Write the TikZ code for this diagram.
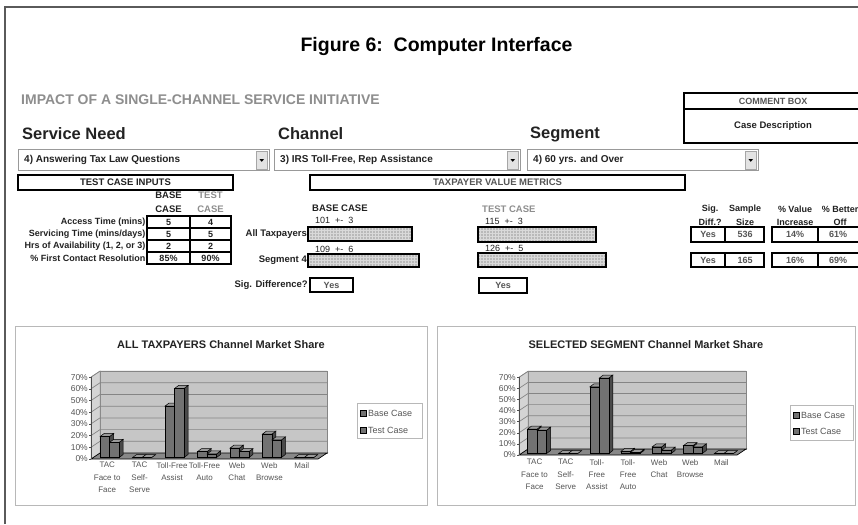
\documentclass[tikz,border=0pt]{standalone}
\usepackage{fontspec}
\setmainfont{Liberation Sans}
\usetikzlibrary{patterns}

\definecolor{ink}{HTML}{222222}
\definecolor{softink}{HTML}{8E8E8E}
\definecolor{midink}{HTML}{555555}
\definecolor{framegray}{HTML}{5A5A5A}
\definecolor{panelgray}{HTML}{B8B8B8}
\definecolor{wallgray}{HTML}{C6C6C6}
\definecolor{sidegray}{HTML}{D4D4D4}
\definecolor{floorgray}{HTML}{888888}
\definecolor{gridgray}{HTML}{858585}
\definecolor{barfront}{HTML}{727272}
\definecolor{bartop}{HTML}{9A9A9A}
\definecolor{barside}{HTML}{4A4A4A}

% one 3-D column: #1 left x, #2 bottom y, #3 width, #4 height
\newcommand\barbox[4]{%
  \filldraw[barsidest] ({#1+#3},{#2}) -- ++(4,-3) -- ({#1+#3+4},{#2-(#4)-3}) -- ({#1+#3},{#2-(#4)}) -- cycle;
  \filldraw[bartopst] ({#1},{#2-(#4)}) -- ({#1+#3},{#2-(#4)}) -- ({#1+#3+4},{#2-(#4)-3}) -- ({#1+4},{#2-(#4)-3}) -- cycle;
  \filldraw[barfrontst] ({#1},{#2}) rectangle ({#1+#3},{#2-(#4)});
}

% market share chart: #1 x0, #2 x1, #3 y of 0%, #4 px per percent, #5 base/test pairs
\newcommand\marketchart[5]{%
  \def\xa{#1}\def\xb{#2}\def\ya{#3}\def\sc{#4}%
  \pgfmathsetmacro\yt{#3-70*#4}%
  \pgfmathsetmacro\cw{(#2-#1)/7}%
  \filldraw[wall] ({\xa+9},{\ya-6}) rectangle ({\xb+9},{\yt-6});
  \filldraw[wallside] (\xa,\ya) -- ({\xa+9},{\ya-6}) -- ({\xa+9},{\yt-6}) -- (\xa,\yt) -- cycle;
  \foreach \k in {1,...,7}{%
    \pgfmathsetmacro\yk{\ya-10*\k*\sc}%
    \draw[gridln] (\xa,\yk) -- ({\xa+9},{\yk-6}) -- ({\xb+9},{\yk-6});
  }
  \filldraw[floorst] (\xa,\ya) -- (\xb,\ya) -- ({\xb+9},{\ya-6}) -- ({\xa+9},{\ya-6}) -- cycle;
  \draw[axisln] (\xa,\ya) -- (\xa,\yt);
  \foreach \k in {0,...,7}{%
    \pgfmathsetmacro\yk{\ya-10*\k*\sc}%
    \draw[axisln] ({\xa-2},\yk) -- (\xa,\yk);
    \node[ytick] at ({\xa-3},\yk) {\the\numexpr\k*10\relax\%};
  }
  \foreach \a/\b [count=\i from 0] in {#5}{%
    \pgfmathsetmacro\cx{\xa+\cw*(\i+0.5)+2.5}%
    \barbox{\cx-9.5}{\ya-1.5}{9.5}{\a*\sc}
    \barbox{\cx}{\ya-1.5}{9.5}{\b*\sc}
  }
}

\begin{document}
\begin{tikzpicture}[x=1pt,y=-1pt,
  every node/.style={inner sep=0pt, text=ink},
  title/.style={font=\fontsize{19.5}{22}\selectfont\bfseries, text=black},
  heading/.style={font=\fontsize{16.5}{19}\selectfont\bfseries, anchor=west},
  banner/.style={font=\fontsize{14}{16}\selectfont\bfseries, text=softink, anchor=west},
  small/.style={font=\fontsize{9.5}{11}\selectfont\bfseries},
  tiny/.style={font=\fontsize{9}{10}\selectfont\bfseries},
  pick/.style={font=\fontsize{10}{12}\selectfont\bfseries, anchor=west},
  heavy/.style={draw=black, line width=1.4},
  combo/.style={draw=gray!80, line width=0.8, fill=white},
  combobtn/.style={draw=gray!70, line width=0.5, fill=gray!22},
  panel/.style={draw=panelgray, line width=1},
  wall/.style={draw=gridgray, line width=0.5, fill=wallgray},
  wallside/.style={draw=gridgray, line width=0.5, fill=sidegray},
  floorst/.style={draw=black, line width=0.7, fill=floorgray},
  gridln/.style={draw=gridgray, line width=0.7},
  axisln/.style={draw=gray!60!black, line width=0.6},
  ytick/.style={font=\fontsize{8.5}{9}\selectfont, anchor=east, text=midink},
  xcat/.style={font=\fontsize{8}{12.3}\selectfont, align=center, anchor=north, text=midink},
  ctitle/.style={font=\fontsize{11}{13}\selectfont\bfseries},
  legendtxt/.style={font=\fontsize{9}{10}\selectfont, anchor=west, text=midink},
  barfrontst/.style={draw=black, line width=0.5, fill=barfront},
  bartopst/.style={draw=black, line width=0.5, fill=bartop},
  barsidest/.style={draw=black, line width=0.5, fill=barside},
]
\useasboundingbox (0,0) rectangle (858,524);
\fill[white] (0,0) rectangle (858,524);

% outer frame
\draw[framegray, line width=1.2] (5,524) -- (5,7) -- (858,7);

% headings
\node[title] (title) at (436.5,47) {Figure 6:\ \ Computer Interface};
\node[banner] (banner) at (21,100) {IMPACT OF A SINGLE-CHANNEL SERVICE INITIATIVE};

% comment box
\draw[heavy] (684,93) rectangle (870,143);
\draw[heavy] (684,109) -- (870,109);
\node[tiny, text=midink] (cbox) at (773,101) {COMMENT BOX};
\node[small] (cdesc) at (773,126) {Case Description};

% selectors
\node[heading] (need) at (22,134) {Service Need};
\node[heading] (chan) at (278,134) {Channel};
\node[heading] (seg) at (530,134) {Segment};

\foreach \l/\r/\txt [count=\n] in {18/269/{4) Answering Tax Law Questions},
                                   274/520/{3) IRS Toll-Free, Rep Assistance},
                                   527/758/{4) 60 yrs. and Over}}{%
  \draw[combo] (\l,149) rectangle (\r,170.5);
  \draw[combobtn] ({\r-13},151) rectangle ({\r-1.5},169);
  \fill[black] ({\r-9.6},159) -- ({\r-4.9},159) -- ({\r-7.25},161.8) -- cycle;
  \node[pick] (pick\n) at ({\l+6},160) {\txt};
}

% section bars
\draw[heavy] (18,175) rectangle (233,190);
\node[small] (tci) at (125.5,182.5) {TEST CASE INPUTS};
\draw[heavy] (310,175) rectangle (685,190);
\node[small, text=midink] (tvm) at (497.5,182.5) {TAXPAYER VALUE METRICS};

% test case inputs table
\node[small, align=center, font=\fontsize{9.5}{13.5}\selectfont\bfseries] (basehd) at (168.5,202) {BASE\\CASE};
\node[small, align=center, text=softink, font=\fontsize{9.5}{13.5}\selectfont\bfseries] (testhd) at (210.5,202) {TEST\\CASE};
\draw[heavy] (147,216) rectangle (231,264);
\draw[heavy] (190,216) -- (190,264);
\foreach \yy in {228,240,252} \draw[heavy] (147,\yy) -- (231,\yy);
\foreach \lab/\bv/\tv [count=\n] in {{Access Time (mins)}/5/4,
                                   {Servicing Time (mins/days)}/5/5,
                                   {Hrs of Availability (1, 2, or 3)}/2/2,
                                   {\% First Contact Resolution}/85\%/90\%}{%
  \pgfmathsetmacro\yy{210+12*\n}
  \node[tiny, anchor=east] (row\n) at (145.5,\yy) {\lab};
  \node[tiny] (bv\n) at (168.5,\yy) {\bv};
  \node[tiny] (tv\n) at (210.5,\yy) {\tv};
}

% base case metrics
\node[small, anchor=west] (bchd) at (312,208) {BASE CASE};
\node[tiny, anchor=west, font=\fontsize{9}{10}\selectfont] (bc1) at (315,220) {101\ \ +-\ \ 3};
\fill[gray!55] (308,227) rectangle (412,241);
\fill[pattern=grid, pattern color=gray!30] (308,227) rectangle (412,241);
\draw[heavy, line width=1.3] (308,227) rectangle (412,241);
\node[small, anchor=east] (alltp) at (307,234) {All Taxpayers};
\node[tiny, anchor=west, font=\fontsize{9}{10}\selectfont] (bc2) at (315,249) {109\ \ +-\ \ 6};
\fill[gray!55] (308,254) rectangle (419,267);
\fill[pattern=grid, pattern color=gray!30] (308,254) rectangle (419,267);
\draw[heavy, line width=1.3] (308,254) rectangle (419,267);
\node[small, anchor=east] (seg4) at (307,260.5) {Segment 4};
\node[small, anchor=east] (sigd) at (308,285) {Sig. Difference?};
\draw[heavy] (310,278) rectangle (353,292);
\node[tiny, text=midink] (yes1) at (331.5,285) {Yes};

% test case metrics
\node[small, anchor=west, text=softink] (tchd) at (482,209) {TEST CASE};
\node[tiny, anchor=west, font=\fontsize{9}{10}\selectfont] (tc1) at (485,221.5) {115\ \ +-\ \ 3};
\fill[gray!55] (478,227) rectangle (596,242);
\fill[pattern=grid, pattern color=gray!30] (478,227) rectangle (596,242);
\draw[heavy, line width=1.3] (478,227) rectangle (596,242);
\node[tiny, anchor=west, font=\fontsize{9}{10}\selectfont] (tc2) at (485,248) {126\ \ +-\ \ 5};
\fill[gray!55] (478,253) rectangle (606,267);
\fill[pattern=grid, pattern color=gray!30] (478,253) rectangle (606,267);
\draw[heavy, line width=1.3] (478,253) rectangle (606,267);
\draw[heavy] (479,278) rectangle (527,293);
\node[tiny, text=midink] (yes2) at (503,285.5) {Yes};

% summary columns
\foreach \cx/\ta/\tb [count=\n] in {710/Sig./Diff.?, 745/Sample/Size, 795/\% Value/Increase, 840/\% Better/Off}{%
  \node[tiny] (hda\n) at (\cx,209) {\ta};
  \node[tiny] (hdb\n) at (\cx,222) {\tb};
}
\foreach \ya/\yb/\va/\vb/\vc/\vd [count=\n] in {227/242/Yes/536/14\%/61\%, 253/267/Yes/165/16\%/69\%}{%
  \draw[heavy] (691,\ya) rectangle (764,\yb);
  \draw[heavy] (725,\ya) -- (725,\yb);
  \draw[heavy] (772,\ya) rectangle (875,\yb);
  \draw[heavy] (818,\ya) -- (818,\yb);
  \node[tiny, text=midink] (sa\n) at (708,{(\ya+\yb)/2}) {\va};
  \node[tiny, text=midink] (sb\n) at (745,{(\ya+\yb)/2}) {\vb};
  \node[tiny, text=midink] (sc\n) at (795,{(\ya+\yb)/2}) {\vc};
  \node[tiny, text=midink] (sd\n) at (838,{(\ya+\yb)/2}) {\vd};
}

% ---- chart: all taxpayers ----
\draw[panel] (15,326) rectangle (427,505);
\node[ctitle] (ct1) at (221,345) {ALL TAXPAYERS Channel Market Share};
\marketchart{91}{318}{459}{1.17}{18/13, 0/0, 44/59, 5/3, 8/5, 20/15, 0/0}
\foreach \t [count=\i from 0] in {{TAC\\Face to\\Face}, {TAC\\Self-\\Serve}, {Toll-Free\\Assist},
                                {Toll-Free\\Auto}, {Web\\Chat}, {Web\\Browse}, {Mail}}{%
  \pgfmathsetmacro\cx{91+32.43*(\i+0.5)}
  \node[xcat] (lc\i) at (\cx,462) {\t};
}
\draw[panel, line width=0.8] (357,403) rectangle (422,438);
\filldraw[barfrontst] (360.5,410.5) rectangle (366.5,416.5);
\node[legendtxt] (lg1) at (368,413.5) {Base Case};
\filldraw[barfrontst] (360.5,427.5) rectangle (366.5,433.5);
\node[legendtxt] (lg2) at (368,430.5) {Test Case};

% ---- chart: selected segment ----
\draw[panel] (437,326) rectangle (855,505);
\node[ctitle] (ct2) at (646,345) {SELECTED SEGMENT Channel Market Share};
\marketchart{519}{737}{455}{1.11}{22/21, 0/0, 60/68, 2/1, 6/3, 7/6, 0/0}
\foreach \t [count=\i from 0] in {{TAC\\Face to\\Face}, {TAC\\Self-\\Serve}, {Toll-\\Free\\Assist},
                                {Toll-\\Free\\Auto}, {Web\\Chat}, {Web\\Browse}, {Mail}}{%
  \pgfmathsetmacro\cx{519+31.14*(\i+0.5)}
  \node[xcat] (rc\i) at (\cx,459) {\t};
}
\draw[panel, line width=0.8] (790,405) rectangle (853,440);
\filldraw[barfrontst] (793.5,412.5) rectangle (799.5,418.5);
\node[legendtxt] (rg1) at (801,415.5) {Base Case};
\filldraw[barfrontst] (793.5,428.5) rectangle (799.5,434.5);
\node[legendtxt] (rg2) at (801,431.5) {Test Case};
\end{tikzpicture}
\end{document}
